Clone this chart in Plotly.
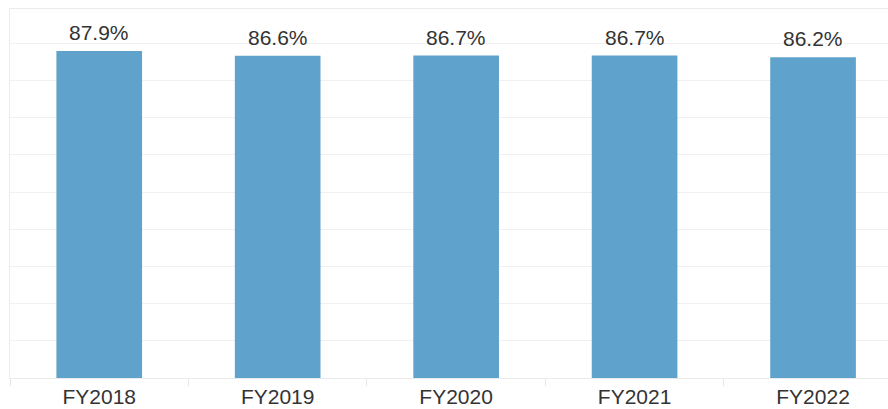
import plotly.graph_objects as go

years = ["FY2018", "FY2019", "FY2020", "FY2021", "FY2022"]
margin_pct = [87.9, 86.6, 86.7, 86.7, 86.2]
labels = [f"{v:.1f}%" for v in margin_pct]

fig = go.Figure()

fig.add_trace(go.Bar(
    x=years,
    y=margin_pct,
    width=0.48,
    marker=dict(color="#5fa2cc", line=dict(width=0)),
    hoverinfo="skip",
))

# value labels sit a little above each bar
for yr, val, txt in zip(years, margin_pct, labels):
    fig.add_annotation(
        x=yr, y=val, text=txt, showarrow=False,
        yanchor="bottom", yshift=5,
        font=dict(family="Liberation Sans, Arial", size=21, color="#333333"),
    )

fig.update_layout(
    width=888,
    height=409,
    margin=dict(l=10, r=0, t=9, b=31),
    paper_bgcolor="white",
    plot_bgcolor="white",
    showlegend=False,
    font=dict(family="Liberation Sans, Arial", color="#333333"),
)

fig.update_xaxes(
    range=[-0.5, 4.42],
    tickson="boundaries",
    ticks="outside",
    ticklen=7,
    tickcolor="#e6e6e6",
    showgrid=False,
    showline=True,
    mirror=True,
    linecolor="#ebebeb",
    tickfont=dict(size=21, color="#333333"),
    automargin=False,
)

fig.update_yaxes(
    range=[0, 99.2],
    dtick=10,
    showticklabels=False,
    showgrid=True,
    gridcolor="#f0f0f0",
    zeroline=False,
    showline=True,
    linecolor="#ececec",
    automargin=False,
)

# drop the default page margin so the chart sits flush in the window
fig.write_html(
    "out.html",
    config={"displayModeBar": False},
    post_script="document.body.style.margin='0';",
)
